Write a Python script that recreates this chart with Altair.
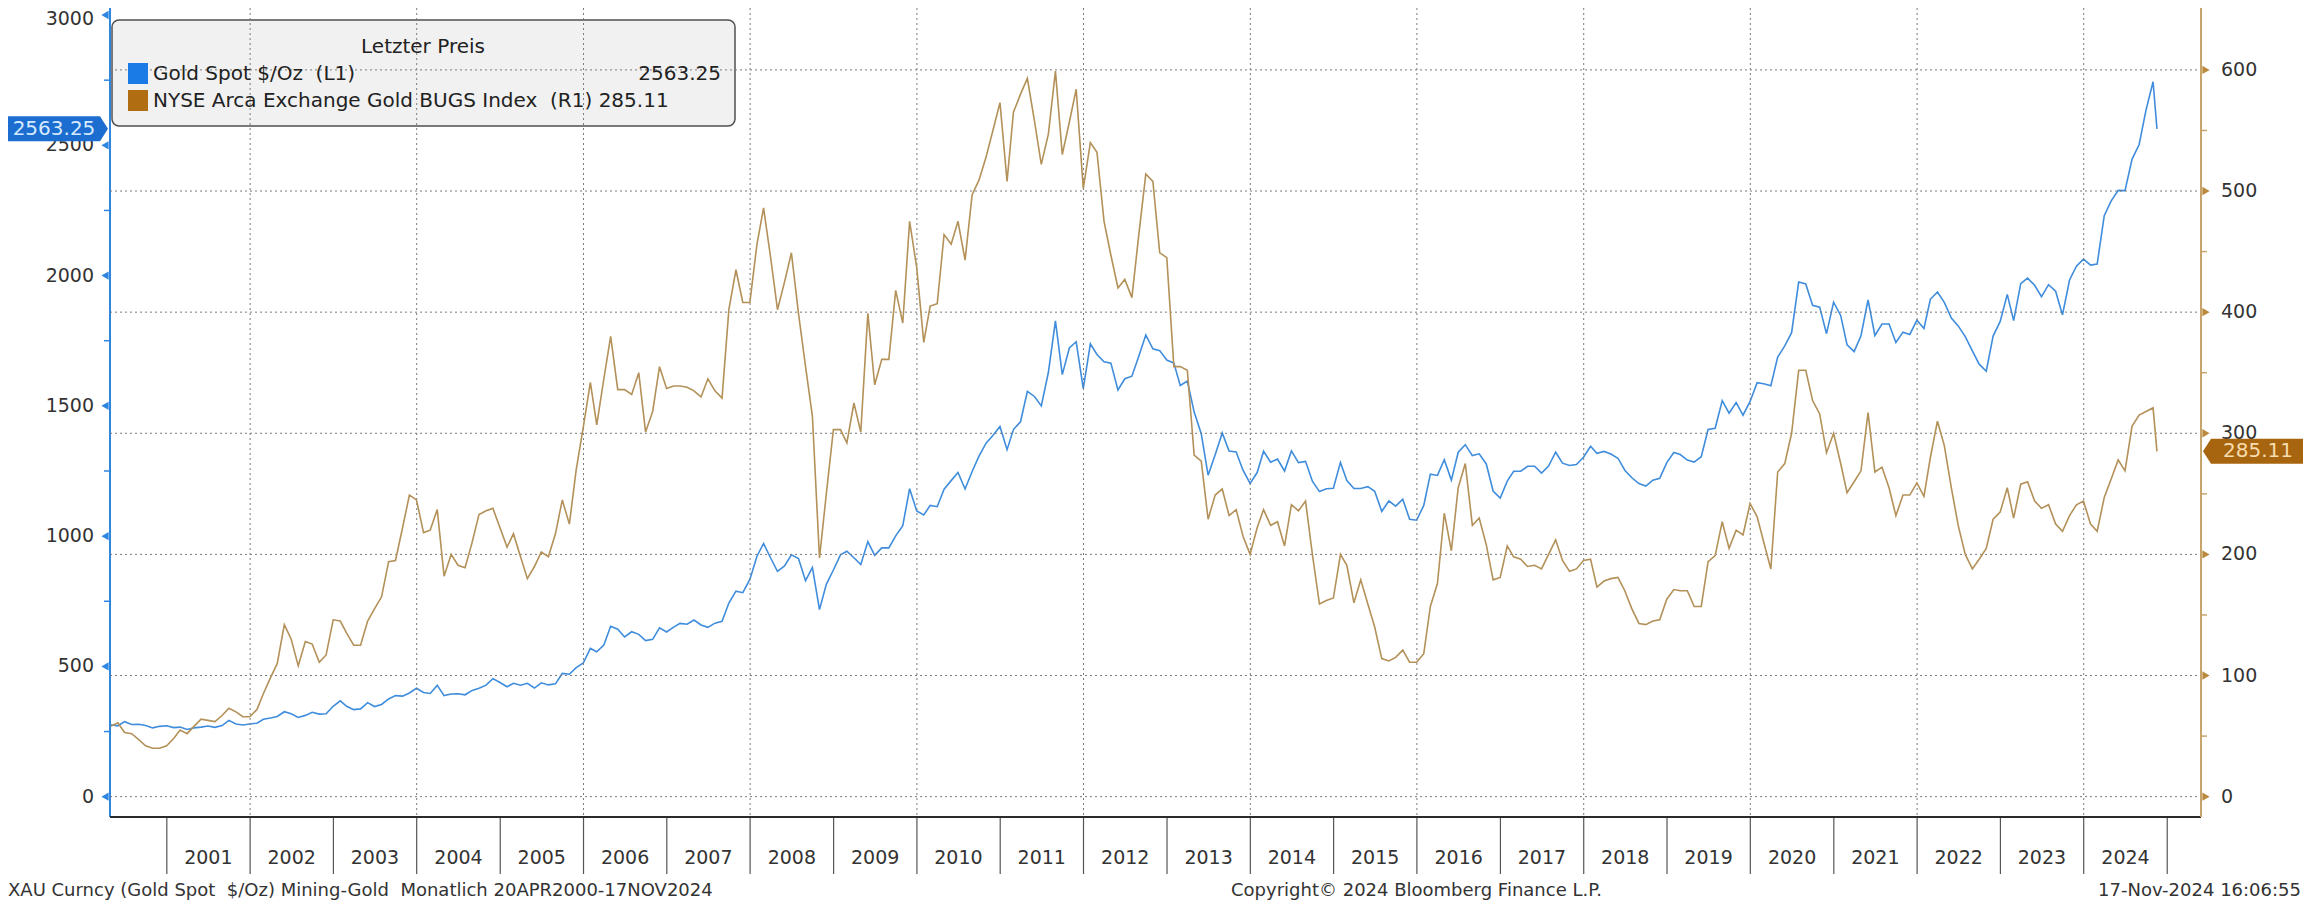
import altair as alt
import pandas as pd

# ---------------- data (month-end values) ----------------
gold_spot = [
    276, 272, 288, 277, 278, 273, 264, 270, 272,                     # 2000 Apr-Dec
    265, 267, 258, 264, 267, 271, 266, 273, 293, 279, 275, 279,      # 2001
    282, 297, 302, 308, 326, 318, 304, 312, 324, 317, 318, 347,      # 2002
    368, 347, 334, 337, 361, 346, 354, 375, 388, 386, 398, 416,      # 2003
    400, 396, 427, 388, 394, 395, 391, 408, 416, 428, 453, 438,      # 2004
    422, 435, 428, 435, 417, 437, 429, 433, 473, 470, 495, 513,      # 2005
    569, 556, 582, 654, 643, 613, 633, 623, 599, 604, 648, 632,      # 2006
    651, 665, 662, 678, 659, 650, 666, 673, 743, 789, 783, 834,      # 2007
    923, 972, 916, 865, 886, 928, 914, 829, 880, 718, 815, 870,      # 2008
    928, 942, 917, 891, 979, 926, 955, 955, 1001, 1040, 1182, 1097,  # 2009
    1081, 1118, 1113, 1180, 1213, 1244, 1181, 1248, 1307, 1357, 1386, 1421,  # 2010
    1332, 1409, 1439, 1556, 1536, 1500, 1628, 1826, 1620, 1722, 1746, 1566,  # 2011
    1738, 1697, 1669, 1664, 1561, 1604, 1614, 1692, 1772, 1719, 1712, 1676,  # 2012
    1664, 1578, 1595, 1476, 1393, 1234, 1312, 1396, 1327, 1323, 1253, 1202,  # 2013
    1244, 1326, 1284, 1296, 1250, 1327, 1282, 1287, 1211, 1171, 1182, 1184,  # 2014
    1283, 1213, 1183, 1183, 1190, 1172, 1095, 1135, 1115, 1142, 1065, 1061,  # 2015
    1118, 1238, 1233, 1293, 1215, 1322, 1351, 1309, 1316, 1277, 1173, 1146,  # 2016
    1211, 1249, 1249, 1268, 1268, 1242, 1269, 1322, 1280, 1271, 1275, 1303,  # 2017
    1345, 1318, 1325, 1315, 1299, 1253, 1224, 1202, 1192, 1215, 1222, 1282,  # 2018
    1321, 1313, 1292, 1284, 1305, 1409, 1414, 1520, 1472, 1513, 1464, 1517,  # 2019
    1589, 1585, 1577, 1687, 1730, 1781, 1975, 1968, 1886, 1879, 1777, 1898,  # 2020
    1847, 1734, 1708, 1769, 1907, 1770, 1814, 1814, 1743, 1783, 1774, 1829,  # 2021
    1797, 1909, 1937, 1897, 1837, 1807, 1766, 1711, 1660, 1633, 1768, 1824,  # 2022
    1928, 1827, 1969, 1990, 1963, 1919, 1965, 1940, 1849, 1983, 2036, 2063,  # 2023
    2040, 2044, 2230, 2286, 2327, 2326, 2447, 2503, 2635, 2744, 2563.25,     # 2024 Jan-Nov17
]

bugs_index = [
    58, 61, 53, 52, 47, 42, 40, 40, 42,                              # 2000 Apr-Dec
    48, 55, 52, 58, 64, 63, 62, 67, 73, 70, 66, 66,                  # 2001
    72, 85, 98, 110, 142, 130, 108, 128, 126, 111, 117, 146,         # 2002
    145, 135, 125, 125, 145, 155, 165, 194, 195, 222, 249, 245,      # 2003
    218, 220, 237, 182, 200, 191, 189, 210, 233, 236, 238, 222,      # 2004
    206, 217, 198, 180, 190, 202, 198, 217, 245, 225, 270, 305,      # 2005
    342, 307, 345, 380, 336, 336, 332, 350, 301, 318, 355, 337,      # 2006
    339, 339, 338, 335, 330, 345, 335, 329, 402, 435, 408, 408,      # 2007
    456, 486, 445, 402, 425, 449, 399, 355, 314, 197, 250, 303,      # 2008
    303, 292, 325, 301, 399, 340, 361, 361, 418, 391, 475, 437,      # 2009
    375, 405, 407, 464, 456, 475, 443, 497, 509, 528, 550, 573,      # 2010
    508, 565, 580, 593, 558, 522, 547, 599, 530, 557, 584, 502,      # 2011
    540, 532, 475, 447, 420, 427, 412, 465, 514, 508, 449, 445,      # 2012
    355, 355, 352, 282, 277, 229, 249, 254, 232, 237, 215, 200,      # 2013
    222, 237, 224, 227, 207, 241, 236, 244, 200, 159, 162, 164,      # 2014
    200, 191, 160, 179, 159, 140, 114, 112, 115, 121, 111, 111,      # 2015
    118, 157, 176, 234, 203, 255, 275, 224, 230, 208, 179, 181,      # 2016
    207, 198, 196, 190, 191, 188, 200, 212, 195, 186, 188, 195,      # 2017
    196, 173, 178, 180, 181, 170, 155, 143, 142, 145, 146, 163,      # 2018
    171, 170, 170, 157, 157, 194, 199, 227, 205, 220, 216, 242,      # 2019
    231, 210, 188, 268, 275, 300, 352, 352, 327, 316, 284, 300,      # 2020
    275, 251, 260, 269, 317, 268, 272, 255, 232, 249, 249, 259,      # 2021
    248, 280, 310, 290, 255, 224, 200, 188, 196, 205, 229, 235,      # 2022
    255, 230, 258, 260, 244, 238, 241, 225, 219, 232, 241, 244,      # 2023
    225, 219, 247, 262, 278, 269, 306, 315, 318, 321, 285.11,        # 2024 Jan-Nov17
]

left_ticks = [0, 500, 1000, 1500, 2000, 2500]
left_top_tick = [3000]
left_minor = [250, 750, 1250, 1750, 2250, 2750]
right_ticks = [0, 100, 200, 300, 400, 500, 600]
right_minor = [50, 150, 250, 350, 450, 550]
year_labels = list(range(2001, 2025))
year_ticks = list(range(2001, 2026))
grid_years = list(range(2002, 2025, 2))

legend_title = "Letzter Preis"
legend_names = ["Gold Spot $/Oz\u00a0\u00a0(L1)", "NYSE Arca Exchange Gold BUGS Index\u00a0\u00a0(R1) 285.11"]
legend_value_1 = "2563.25"
footer_left = "XAU Curncy (Gold Spot\u00a0\u00a0$/Oz) Mining-Gold\u00a0\u00a0Monatlich 20APR2000-17NOV2024"
footer_mid = "Copyright\u00a9 2024 Bloomberg Finance L.P."
footer_right = "17-Nov-2024 16:06:55"

# ---------------- build tables ----------------
dates = []
for y in range(2000, 2025):
    for m in range(1, 13):
        if (y == 2000 and m < 4) or (y == 2024 and m > 10):
            continue
        dates.append((pd.Timestamp(y, m, 1) + pd.offsets.MonthEnd(0)).strftime("%Y-%m-%d"))
dates.append("2024-11-17")

df = pd.DataFrame({"date": dates, "gold": gold_spot, "bugs": bugs_index})

W, H = 2091, 809
FONT = "DejaVu Sans"
BLUE_LINE = "#3f8ddc"
BLUE_AXIS = "#2f86e0"
BROWN_LINE = "#b39159"
BROWN_AXIS = "#c7a46a"
GRID = "#7a7a7a"
TXT = "#333333"

x_scale = alt.Scale(domain=[alt.DateTime(year=2000, month=4, date=27, utc=True),
                            alt.DateTime(year=2025, month=5, date=29, utc=True)])
yL = alt.Scale(domain=[-78, 3027], nice=False, zero=False)
yR = alt.Scale(domain=[-16.8, 651.1], nice=False, zero=False)

# ---------------- left-scale group ----------------
legend_box = alt.Chart(pd.DataFrame({"k": [0]})).mark_rect(
    fill="#f1f1f1", stroke="#505050", strokeWidth=1.5, cornerRadius=7
).encode(x=alt.value(2), x2=alt.value(625), y=alt.value(12), y2=alt.value(118))

gold_line = alt.Chart(df).mark_line(color=BLUE_LINE, strokeWidth=1.6).encode(
    x=alt.X("date:T", scale=x_scale, axis=None),
    y=alt.Y("gold:Q", scale=yL, axis=None),
)

left_domain = alt.Chart(pd.DataFrame({"k": [0]})).mark_rule(color=BLUE_AXIS, strokeWidth=2).encode(
    x=alt.value(0), y=alt.value(-4), y2=alt.value(H))

left_lab = alt.Chart(pd.DataFrame({"v": left_ticks, "t": [str(v) for v in left_ticks]})).mark_text(
    font=FONT, fontSize=19, color=TXT, align="right", baseline="middle"
).encode(x=alt.value(-16), y=alt.Y("v:Q", scale=yL, axis=None), text="t:N")

left_lab_top = alt.Chart(pd.DataFrame({"v": left_top_tick, "t": [str(v) for v in left_top_tick]})).mark_text(
    font=FONT, fontSize=19, color=TXT, align="right", baseline="middle", dy=4
).encode(x=alt.value(-16), y=alt.Y("v:Q", scale=yL, axis=None), text="t:N")

left_tri = alt.Chart(pd.DataFrame({"v": left_ticks + left_top_tick})).mark_point(
    shape="triangle-left", filled=True, size=70, color=BLUE_AXIS, opacity=1
).encode(x=alt.value(-5), y=alt.Y("v:Q", scale=yL, axis=None))

left_min = alt.Chart(pd.DataFrame({"v": left_minor})).mark_rule(
    color=BLUE_AXIS, strokeWidth=1.5
).encode(x=alt.value(-6), x2=alt.value(0), y=alt.Y("v:Q", scale=yL, axis=None))

TAG_L = "M-1,-0.25L0.84,-0.25L1,0L0.84,0.25L-1,0.25Z"
TAG_R = "M-1,0L-0.84,-0.25L1,-0.25L1,0.25L-0.84,0.25Z"

left_tag_df = pd.DataFrame({"v": [gold_spot[-1]], "label": [f"{gold_spot[-1]:.2f}"]})
left_tag = alt.Chart(left_tag_df).mark_point(
    shape=TAG_L, size=10000, filled=True, color="#1c6dd0", opacity=1, strokeWidth=0
).encode(x=alt.value(-52), y=alt.Y("v:Q", scale=yL, axis=None))
left_tag_txt = alt.Chart(left_tag_df).mark_text(
    font=FONT, fontSize=20, color="#d6eaff", align="center", baseline="middle"
).encode(x=alt.value(-56), y=alt.Y("v:Q", scale=yL, axis=None), text="label:N")

left_group = alt.layer(legend_box, gold_line, left_domain, left_lab, left_lab_top, left_tri,
                       left_min, left_tag, left_tag_txt)

# ---------------- right-scale group ----------------
grid_h = alt.Chart(pd.DataFrame({"v": right_ticks})).mark_rule(
    color=GRID, strokeDash=[2, 3], strokeWidth=1
).encode(y=alt.Y("v:Q", scale=yR, axis=None), x=alt.value(0), x2=alt.value(W))

grid_df = pd.DataFrame({"d": [f"{y}-01-01" for y in grid_years]})
grid_v = alt.Chart(grid_df).mark_rule(color=GRID, strokeDash=[2, 3], strokeWidth=1).encode(
    x=alt.X("d:T", scale=x_scale, axis=None), y=alt.value(0), y2=alt.value(H))

ticks_df = pd.DataFrame({"d": [f"{y}-01-01" for y in year_ticks]})
x_ticks = alt.Chart(ticks_df).mark_rule(color="#555555", strokeWidth=1.2).encode(
    x=alt.X("d:T", scale=x_scale, axis=None), y=alt.value(H), y2=alt.value(H + 57))

ylab_df = pd.DataFrame({"d": [f"{y}-07-02" for y in year_labels], "t": [str(y) for y in year_labels]})
x_labels = alt.Chart(ylab_df).mark_text(font=FONT, fontSize=19, color=TXT, baseline="middle").encode(
    x=alt.X("d:T", scale=x_scale, axis=None), y=alt.value(H + 41), text="t:N")

bottom_line = alt.Chart(pd.DataFrame({"k": [0]})).mark_rule(color="#2b2b2b", strokeWidth=2).encode(
    x=alt.value(0), x2=alt.value(W), y=alt.value(H))

bugs_line = alt.Chart(df).mark_line(color=BROWN_LINE, strokeWidth=1.6).encode(
    x=alt.X("date:T", scale=x_scale, axis=None),
    y=alt.Y("bugs:Q", scale=yR, axis=None),
)

right_domain = alt.Chart(pd.DataFrame({"k": [0]})).mark_rule(color=BROWN_AXIS, strokeWidth=2).encode(
    x=alt.value(W), y=alt.value(-4), y2=alt.value(H))

right_lab = alt.Chart(pd.DataFrame({"v": right_ticks, "t": [str(v) for v in right_ticks]})).mark_text(
    font=FONT, fontSize=19, color=TXT, align="left", baseline="middle"
).encode(x=alt.value(W + 20), y=alt.Y("v:Q", scale=yR, axis=None), text="t:N")

right_tri = alt.Chart(pd.DataFrame({"v": right_ticks})).mark_point(
    shape="triangle-right", filled=True, size=70, color="#b98a3e", opacity=1
).encode(x=alt.value(W + 5), y=alt.Y("v:Q", scale=yR, axis=None))

right_min = alt.Chart(pd.DataFrame({"v": right_minor})).mark_rule(
    color=BROWN_AXIS, strokeWidth=1.5
).encode(x=alt.value(W), x2=alt.value(W + 6), y=alt.Y("v:Q", scale=yR, axis=None))

right_tag_df = pd.DataFrame({"v": [bugs_index[-1]], "label": [f"{bugs_index[-1]:.2f}"]})
right_tag = alt.Chart(right_tag_df).mark_point(
    shape=TAG_R, size=10000, filled=True, color="#a8650f", opacity=1, strokeWidth=0
).encode(x=alt.value(W + 52), y=alt.Y("v:Q", scale=yR, axis=None))
right_tag_txt = alt.Chart(right_tag_df).mark_text(
    font=FONT, fontSize=20, color="#f6dcae", align="center", baseline="middle"
).encode(x=alt.value(W + 57), y=alt.Y("v:Q", scale=yR, axis=None), text="label:N")

# legend contents
leg_sq = alt.Chart(pd.DataFrame({"c": ["#1a7be6", "#b06d12"], "y0": [55, 82], "y1": [76, 103]})).mark_rect().encode(
    x=alt.value(18), x2=alt.value(38), y=alt.Y("y0:Q", scale=None), y2="y1:Q",
    color=alt.Color("c:N", scale=None))
leg_title = alt.Chart(pd.DataFrame({"t": [legend_title]})).mark_text(
    font=FONT, fontSize=20, color="#222222", align="center", baseline="middle"
).encode(x=alt.value(313), y=alt.value(39), text="t:N")
leg_names = alt.Chart(pd.DataFrame({"t": legend_names, "yy": [65.5, 93]})).mark_text(
    font=FONT, fontSize=20, color="#222222", align="left", baseline="middle"
).encode(x=alt.value(43), y=alt.Y("yy:Q", scale=None), text="t:N")
leg_val = alt.Chart(pd.DataFrame({"t": [legend_value_1]})).mark_text(
    font=FONT, fontSize=20, color="#222222", align="right", baseline="middle"
).encode(x=alt.value(611), y=alt.value(65.5), text="t:N")

# footer
FOOT_Y = H + 79
foot_l = alt.Chart(pd.DataFrame({"t": [footer_left]})).mark_text(
    font=FONT, fontSize=18, color=TXT, align="left", baseline="alphabetic"
).encode(x=alt.value(-102), y=alt.value(FOOT_Y), text="t:N")
foot_m = alt.Chart(pd.DataFrame({"t": [footer_mid]})).mark_text(
    font=FONT, fontSize=18, color=TXT, align="left", baseline="alphabetic"
).encode(x=alt.value(1121), y=alt.value(FOOT_Y), text="t:N")
foot_r = alt.Chart(pd.DataFrame({"t": [footer_right]})).mark_text(
    font=FONT, fontSize=18, color=TXT, align="right", baseline="alphabetic"
).encode(x=alt.value(W + 100), y=alt.value(FOOT_Y), text="t:N")

right_group = alt.layer(grid_h, grid_v, x_ticks, x_labels, bottom_line, bugs_line,
                        right_domain, right_lab, right_tri, right_min, right_tag, right_tag_txt,
                        leg_sq, leg_title, leg_names, leg_val, foot_l, foot_m, foot_r)

chart = alt.layer(left_group, right_group).resolve_scale(y="independent").properties(
    width=W, height=H,
    autosize=alt.AutoSizeParams(type="none"),
    padding={"left": 102, "top": 0, "right": 102, "bottom": 85},
    background="white",
).configure_view(stroke=None)

chart.save("out.html", embed_options={"renderer": "svg", "actions": False})
